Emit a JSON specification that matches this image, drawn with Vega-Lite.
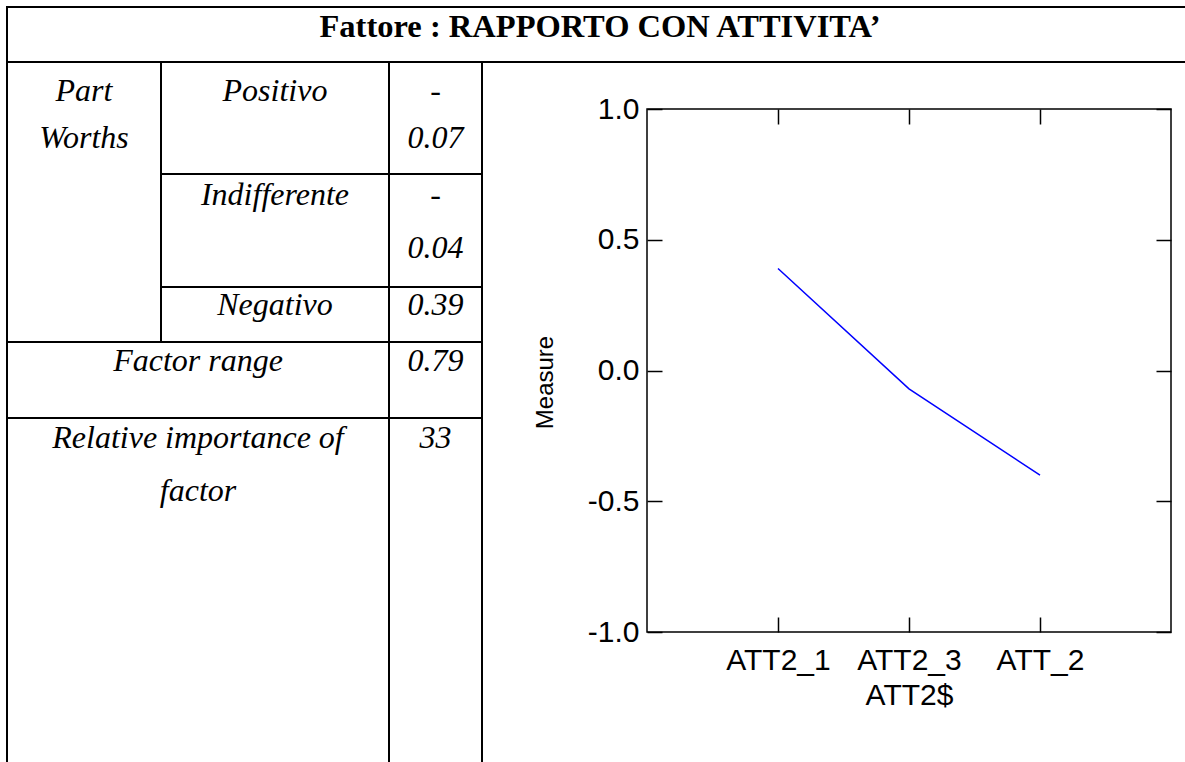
{
  "$schema": "https://vega.github.io/schema/vega-lite/v6.json",
  "padding": 0,
  "bounds": "flush",
  "spacing": 165,
  "config": {
    "view": {"stroke": null},
    "text": {"font": "Liberation Serif", "fontSize": 32, "fontStyle": "italic", "baseline": "alphabetic", "color": "black"},
    "axis": {"grid": false, "tickColor": "black", "tickWidth": 1.5, "labelColor": "black", "titleColor": "black", "labelFont": "Liberation Sans", "titleFont": "Liberation Sans", "titleFontWeight": "normal"}
  },
  "hconcat": [
    {
      "width": 482,
      "height": 762,
      "layer": [
        {
          "data": {"values": [
            {"fromCol": 0, "toCol": 4, "fromRow": 0, "toRow": 0},
            {"fromCol": 0, "toCol": 4, "fromRow": 1, "toRow": 1},
            {"fromCol": 1, "toCol": 3, "fromRow": 2, "toRow": 2},
            {"fromCol": 1, "toCol": 3, "fromRow": 3, "toRow": 3},
            {"fromCol": 0, "toCol": 3, "fromRow": 4, "toRow": 4},
            {"fromCol": 0, "toCol": 3, "fromRow": 5, "toRow": 5},
            {"fromCol": 0, "toCol": 0, "fromRow": 0, "toRow": 6},
            {"fromCol": 1, "toCol": 1, "fromRow": 1, "toRow": 4},
            {"fromCol": 2, "toCol": 2, "fromRow": 1, "toRow": 6},
            {"fromCol": 3, "toCol": 3, "fromRow": 1, "toRow": 6}
          ]},
          "mark": {"type": "rule", "color": "black", "strokeWidth": 2, "strokeCap": "square"},
          "encoding": {
            "x": {"field": "fromCol", "type": "quantitative", "scale": {"domain": [0, 1, 2, 3, 4], "range": [7, 161, 389, 482, 1193], "nice": false, "zero": false}, "axis": null},
            "x2": {"field": "toCol"},
            "y": {"field": "fromRow", "type": "quantitative", "scale": {"domain": [0, 1, 2, 3, 4, 5, 6], "range": [7, 62, 174, 287, 342, 418, 770], "nice": false, "zero": false}, "axis": null},
            "y2": {"field": "toRow"}
          }
        },
        {
          "data": {"values": [
            {"text": "Part", "col": 0, "line": 1},
            {"text": "Worths", "col": 0, "line": 2},
            {"text": "Positivo", "col": 1, "line": 1},
            {"text": "-", "col": 2, "line": 1},
            {"text": "0.07", "col": 2, "line": 2},
            {"text": "Indifferente", "col": 1, "line": 3},
            {"text": "-", "col": 2, "line": 3},
            {"text": "0.04", "col": 2, "line": 4},
            {"text": "Negativo", "col": 1, "line": 5},
            {"text": "0.39", "col": 2, "line": 5},
            {"text": "Factor range", "col": 3, "line": 6},
            {"text": "0.79", "col": 2, "line": 6},
            {"text": "Relative importance of", "col": 3, "line": 7},
            {"text": "33", "col": 2, "line": 7},
            {"text": "factor", "col": 3, "line": 8}
          ]},
          "mark": {"type": "text"},
          "encoding": {
            "text": {"field": "text"},
            "x": {"field": "col", "type": "quantitative", "scale": {"domain": [0, 1, 2, 3, 4], "range": [84, 275, 435.5, 198, 600], "nice": false, "zero": false}, "axis": null},
            "y": {"field": "line", "type": "quantitative", "scale": {"domain": [0, 1, 2, 3, 4, 5, 6, 7, 8], "range": [37, 101, 148, 205, 258, 315, 371, 448, 501], "nice": false, "zero": false}, "axis": null}
          }
        },
        {
          "data": {"values": [
            {"text": "Fattore : RAPPORTO CON ATTIVITA’", "col": 4, "line": 0}
          ]},
          "mark": {"type": "text", "fontStyle": "normal", "fontWeight": "bold", "fontSize": 32.5},
          "encoding": {
            "text": {"field": "text"},
            "x": {"field": "col", "type": "quantitative", "scale": {"domain": [0, 1, 2, 3, 4], "range": [84, 275, 435.5, 198, 600], "nice": false, "zero": false}, "axis": null},
            "y": {"field": "line", "type": "quantitative", "scale": {"domain": [0, 1, 2, 3, 4, 5, 6, 7, 8], "range": [37, 101, 148, 205, 258, 315, 371, 448, 501], "nice": false, "zero": false}, "axis": null}
          }
        }
      ],
      "resolve": {"scale": {"x": "independent", "y": "independent"}}
    },
    {
      "vconcat": [
        {
          "width": 524, "height": 109,
          "data": {"values": [{}]},
          "mark": "text",
          "encoding": {"text": {"value": ""}}
        },
        {
          "width": 524, "height": 523,
          "view": {"stroke": "black", "strokeWidth": 1.5},
          "data": {"values": [
            {"level": "ATT2_1", "measure": 0.39},
            {"level": "ATT2_3", "measure": -0.07},
            {"level": "ATT_2", "measure": -0.40}
          ]},
          "layer": [
            {
              "mark": {"type": "line", "color": "#0000ff", "strokeWidth": 1.5},
              "encoding": {
                "x": {"field": "level", "type": "nominal", "sort": null,
                  "scale": {"type": "point", "padding": 1, "domain": ["ATT2_1", "ATT2_3", "ATT_2"]},
                  "axis": {"orient": "bottom", "title": "ATT2$", "domain": false, "tickSize": -15, "labelPadding": 28, "labelFontSize": 30, "labelAngle": 0, "labelBaseline": "top", "titleFontSize": 30, "titlePadding": 5}},
                "y": {"field": "measure", "type": "quantitative",
                  "scale": {"domain": [-1, 1], "nice": false, "zero": false},
                  "axis": {"orient": "left", "title": "Measure", "domain": false, "tickSize": -15, "values": [-1, -0.5, 0, 0.5, 1], "labelExpr": "datum.value < 0 ? '-' + format(-datum.value, '.1f') : format(datum.value, '.1f')", "labelPadding": 23, "labelFontSize": 30, "labelFlush": false, "titleFontSize": 24, "titlePadding": 30, "titleY": 273}}
              }
            },
            {
              "mark": {"type": "line", "opacity": 0},
              "encoding": {
                "x": {"field": "level", "type": "nominal", "sort": null,
                  "scale": {"type": "point", "padding": 1, "domain": ["ATT2_1", "ATT2_3", "ATT_2"]},
                  "axis": {"orient": "top", "title": null, "labels": false, "domain": false, "tickSize": -15}},
                "y": {"field": "measure", "type": "quantitative",
                  "scale": {"domain": [-1, 1], "nice": false, "zero": false},
                  "axis": {"orient": "right", "title": null, "labels": false, "domain": false, "tickSize": -15, "values": [-1, -0.5, 0, 0.5, 1]}}
              }
            }
          ],
          "resolve": {"axis": {"x": "independent", "y": "independent"}}
        }
      ],
      "spacing": 0,
      "bounds": "flush"
    }
  ]
}
